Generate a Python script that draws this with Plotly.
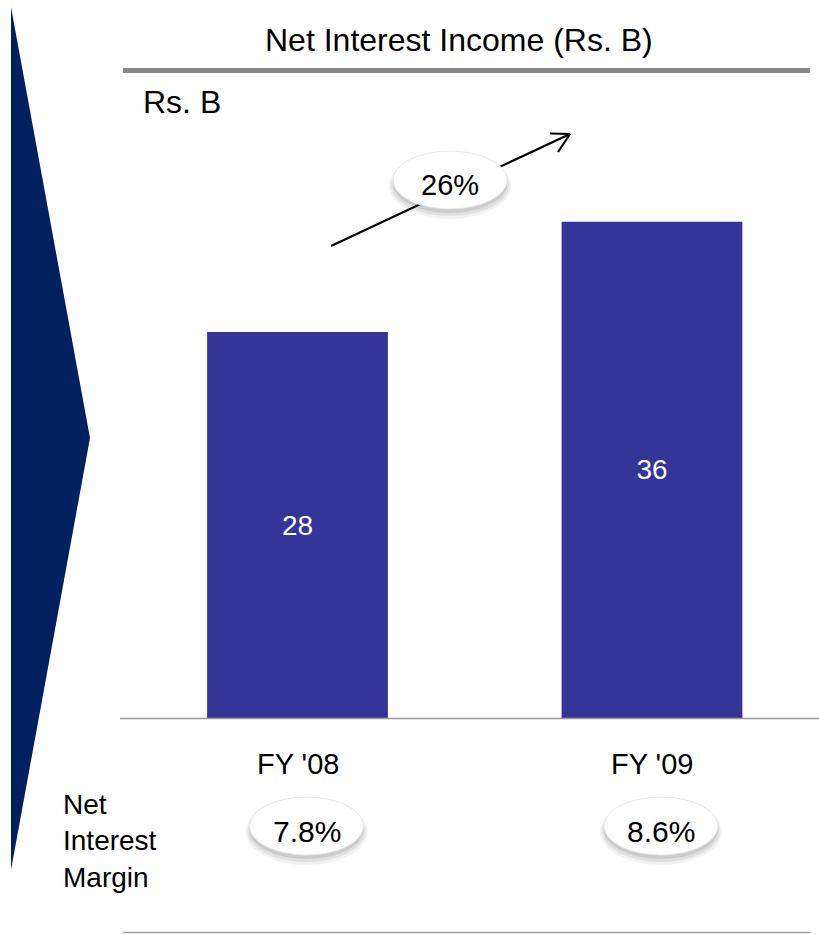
import plotly.graph_objects as go

# ---- data ----
categories = ["FY '08", "FY '09"]
nii_values = [28, 36]
nim_labels = ["7.8%", "8.6%"]
growth_label = "26%"
title_text = "Net Interest Income (Rs. B)"
unit_label = "Rs. B"
nim_row_label = "Net<br>Interest<br>Margin"

W, H = 819, 934


def px(x):
    return x / W


def py(y):
    return 1 - y / H


BAR_COLOR = "#353599"
NAVY = "#00205F"
FONT = "Liberation Sans, Arial, sans-serif"

fig = go.Figure()
fig.add_trace(go.Bar(
    x=list(range(len(categories))), y=nii_values,
    text=[str(v) for v in nii_values],
    textposition="inside", insidetextanchor="middle",
    textfont=dict(color="white", size=28, family=FONT),
    marker=dict(color=BAR_COLOR, line=dict(width=0)),
    width=0.51, hoverinfo="skip",
))

shapes = []
annotations = []

# left navy chevron
shapes.append(dict(type="path", xref="paper", yref="paper",
                   path=f"M {px(11)},{py(7)} L {px(90)},{py(438)} L {px(11)},{py(870)} Z",
                   fillcolor=NAVY, line=dict(width=0), layer="below"))

# title rule, axis line, bottom rule
shapes.append(dict(type="line", xref="paper", yref="paper", x0=px(123), x1=px(810),
                   y0=py(70.5), y1=py(70.5), line=dict(color="#888888", width=5)))
shapes.append(dict(type="line", xref="paper", yref="paper", x0=px(120), x1=px(819),
                   y0=py(718.5), y1=py(718.5), line=dict(color="#9a9a9a", width=1.5)))
shapes.append(dict(type="line", xref="paper", yref="paper", x0=px(123), x1=px(810),
                   y0=py(932.5), y1=py(932.5), line=dict(color="#9a9a9a", width=1.5)))

# growth arrow
ax0, ay0, ax1, ay1 = 331, 246, 570, 134
shapes.append(dict(type="line", xref="paper", yref="paper", x0=px(ax0), y0=py(ay0),
                   x1=px(ax1), y1=py(ay1), line=dict(color="black", width=2.2)))
shapes.append(dict(type="line", xref="paper", yref="paper", x0=px(ax1), y0=py(ay1),
                   x1=px(550), y1=py(133.5), line=dict(color="black", width=2.2)))
shapes.append(dict(type="line", xref="paper", yref="paper", x0=px(ax1), y0=py(ay1),
                   x1=px(558), y1=py(152), line=dict(color="black", width=2.2)))


def bubble(cx, cy, w, h, xref="paper", xscale=1.0):
    # soft shadow
    for off, grow, alpha in [(6, 4, 0.05), (5, 2, 0.07), (4, 0, 0.09)]:
        shapes.append(dict(type="circle", xref=xref, yref="paper",
                           x0=cx - (w / 2 + grow) * xscale, x1=cx + (w / 2 + grow) * xscale,
                           y0=py(cy + h / 2 + off + grow), y1=py(cy - h / 2 + off - grow),
                           fillcolor=f"rgba(0,0,0,{alpha})", line=dict(width=0)))
    shapes.append(dict(type="circle", xref=xref, yref="paper",
                       x0=cx - w / 2 * xscale, x1=cx + w / 2 * xscale,
                       y0=py(cy + h / 2), y1=py(cy - h / 2),
                       fillcolor="white", line=dict(color="#e6e6e6", width=1)))


# growth bubble
bubble(px(450), 180, 114, 58, xscale=1 / W)
annotations.append(dict(xref="paper", yref="paper", x=px(450), y=py(185), text=growth_label,
                        showarrow=False, font=dict(size=29, family=FONT, color="black"),
                        xanchor="center", yanchor="middle"))

# x axis mapping: category index i -> pixel 297.5 + 354.5*i
unit_px = 354.5
x_lo = 120
x_hi = 819
x_range = [-(297.5 - x_lo) / unit_px, (x_hi - 297.5) / unit_px]

nim_offset = 9 / unit_px
for i, (cat, nim) in enumerate(zip(categories, nim_labels)):
    annotations.append(dict(xref="x", yref="paper", x=i, y=py(764), text=cat, showarrow=False,
                            font=dict(size=29, family=FONT, color="black"),
                            xanchor="center", yanchor="middle"))
    bubble(i + nim_offset, 826, 114, 58, xref="x", xscale=1 / unit_px)
    annotations.append(dict(xref="x", yref="paper", x=i + nim_offset, y=py(831), text=nim,
                            showarrow=False, font=dict(size=30, family=FONT, color="black"),
                            xanchor="center", yanchor="middle"))

# texts
annotations.append(dict(xref="paper", yref="paper", x=px(459), y=py(40), text=title_text,
                        showarrow=False, font=dict(size=32, family=FONT, color="black"),
                        xanchor="center", yanchor="middle"))
annotations.append(dict(xref="paper", yref="paper", x=px(141), y=py(102), text=unit_label,
                        showarrow=False, font=dict(size=32, family=FONT, color="black"),
                        xanchor="left", yanchor="middle"))
annotations.append(dict(xref="paper", yref="paper", x=px(61), y=py(841), text=nim_row_label,
                        showarrow=False, font=dict(size=28, family=FONT, color="black"),
                        xanchor="left", yanchor="middle", align="left"))

px_per_unit = ((718 - 332) / 28 + (718 - 222) / 36) / 2

fig.update_layout(
    width=W, height=H,
    margin=dict(l=0, r=0, t=0, b=0),
    paper_bgcolor="white", plot_bgcolor="white",
    showlegend=False,
    xaxis=dict(domain=[px(x_lo), 1], range=x_range, visible=False, fixedrange=True),
    yaxis=dict(domain=[py(718), 1], range=[0, 718 / px_per_unit], visible=False, fixedrange=True),
    shapes=shapes, annotations=annotations,
    font=dict(family=FONT),
)

fig.write_html("out.html", config={"displayModeBar": False},
               post_script="document.body.style.margin='0';document.body.style.overflow='hidden';")
